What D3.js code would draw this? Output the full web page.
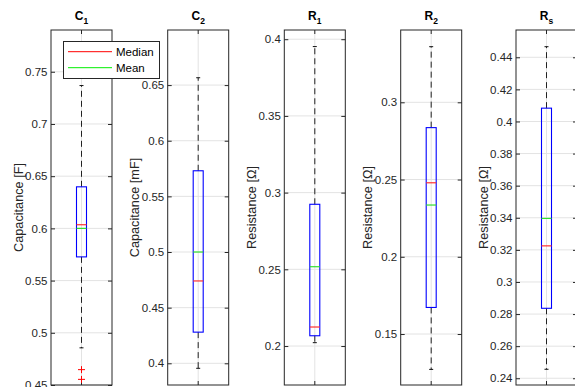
<!DOCTYPE html>
<html><head><meta charset="utf-8">
<script src="https://cdn.jsdelivr.net/npm/d3@7"></script>
<style>body{margin:0;background:#fff}svg{display:block}text{font-family:"Liberation Sans",Arial,sans-serif}</style>
</head><body><svg id="c" width="575" height="387"></svg>
<script>
// ---- data ----
const titleMain = ["C","C","R","R","R"];
const titleSub  = ["1","2","1","2","s"];
const yLabels   = ["Capacitance [F]","Capacitance [mF]","Resistance [\u03a9]","Resistance [\u03a9]","Resistance [\u03a9]"];
const whiskerLow  = [0.4856, 0.3955, 0.2022, 0.1271, 0.2456];
const q1          = [0.5727, 0.428, 0.2067, 0.1672, 0.2836];
const medians     = [0.6035, 0.474, 0.2124, 0.2479, 0.3225];
const means       = [0.600, 0.500, 0.2517, 0.2335, 0.3396];
const q3          = [0.6398, 0.573, 0.2924, 0.2836, 0.4083];
const whiskerHigh = [0.7368, 0.6566, 0.3952, 0.336, 0.4466];
const outliers    = [[0.4647, 0.4554], [], [], [], []];
const yDomains    = [[0.45, 0.79], [0.3805, 0.6995], [0.1746, 0.406], [0.117, 0.3468], [0.2358, 0.457]];
const tickVals = [
  [0.45,0.5,0.55,0.6,0.65,0.7,0.75],
  [0.4,0.45,0.5,0.55,0.6,0.65],
  [0.2,0.25,0.3,0.35,0.4],
  [0.15,0.2,0.25,0.3],
  [0.24,0.26,0.28,0.3,0.32,0.34,0.36,0.38,0.4,0.42,0.44]
];
const tickLabels = [
  ["0.45","0.5","0.55","0.6","0.65","0.7","0.75"],
  ["0.4","0.45","0.5","0.55","0.6","0.65"],
  ["0.2","0.25","0.3","0.35","0.4"],
  ["0.15","0.2","0.25","0.3"],
  ["0.24","0.26","0.28","0.3","0.32","0.34","0.36","0.38","0.4","0.42","0.44"]
];
const legendItems = ["Median","Mean"];

// ---- layout ----
const axLeft = [51, 167.7, 284.3, 400.7, 516];
const axW = 61;
const plotTop = 30, plotBottom = 385;
const svg = d3.select("#c");
const txt = "#262626";

for (let i = 0; i < 5; i++) {
  const g = svg.append("g").attr("transform", `translate(${axLeft[i]},0)`);
  const y = d3.scaleLinear().domain(yDomains[i]).range([plotBottom, plotTop]);
  const x = d3.scaleLinear().domain([0.5, 1.5]).range([0, axW]);
  // grid
  g.selectAll(".gy").data(tickVals[i]).enter().append("line")
    .attr("x1", 0).attr("x2", axW).attr("y1", d => y(d)).attr("y2", d => y(d))
    .attr("stroke", "#e3e3e3").attr("stroke-width", 1);
  g.append("line").attr("x1", x(1)).attr("x2", x(1)).attr("y1", plotTop).attr("y2", plotBottom)
    .attr("stroke", "#e3e3e3");
  // left axis
  const ax = d3.axisLeft(y).tickValues(tickVals[i]).tickFormat((d, k) => tickLabels[i][k]).tickSizeInner(-4).tickSizeOuter(0).tickPadding(3.5);
  const ag = g.append("g").call(ax);
  ag.attr("font-family", null).attr("font-size", null);
  ag.select(".domain").remove();
  ag.selectAll(".tick line").attr("stroke", txt);
  ag.selectAll(".tick text").attr("fill", txt).style("font-size", "11.5px");
  // right ticks
  const ar = d3.axisRight(y).tickValues(tickVals[i]).tickFormat("").tickSizeInner(-4).tickSizeOuter(0);
  const arg = g.append("g").attr("transform", `translate(${axW},0)`).call(ar);
  arg.select(".domain").remove();
  arg.selectAll(".tick line").attr("stroke", txt);
  // x ticks top/bottom
  g.append("line").attr("x1", x(1)).attr("x2", x(1)).attr("y1", plotBottom).attr("y2", plotBottom - 4).attr("stroke", txt);
  g.append("line").attr("x1", x(1)).attr("x2", x(1)).attr("y1", plotTop).attr("y2", plotTop + 4).attr("stroke", txt);
  // whiskers
  const cx = x(1);
  g.append("line").attr("x1", cx).attr("x2", cx).attr("y1", y(q3[i])).attr("y2", y(whiskerHigh[i]))
    .attr("stroke", "#222").attr("stroke-dasharray", "6,4");
  g.append("line").attr("x1", cx).attr("x2", cx).attr("y1", y(q1[i])).attr("y2", y(whiskerLow[i]))
    .attr("stroke", "#222").attr("stroke-dasharray", "6,4");
  [whiskerHigh[i], whiskerLow[i]].forEach(v => {
    g.append("line").attr("x1", cx - 2).attr("x2", cx + 2).attr("y1", y(v)).attr("y2", y(v)).attr("stroke", "#111");
  });
  // box
  const bw = 10;
  g.append("rect").attr("x", cx - bw / 2).attr("y", y(q3[i])).attr("width", bw).attr("height", y(q1[i]) - y(q3[i]))
    .attr("fill", "none").attr("stroke", "#0000ff").attr("stroke-width", 1.1);
  // median & mean
  g.append("line").attr("x1", cx - bw / 2).attr("x2", cx + bw / 2).attr("y1", y(medians[i])).attr("y2", y(medians[i]))
    .attr("stroke", "#ff3030").attr("stroke-width", 1.2);
  g.append("line").attr("x1", cx - bw / 2).attr("x2", cx + bw / 2).attr("y1", y(means[i])).attr("y2", y(means[i]))
    .attr("stroke", "#30e030").attr("stroke-width", 1.2);
  // outliers
  outliers[i].forEach(v => {
    g.append("path").attr("d", `M${cx - 3.5},${y(v)}H${cx + 3.5}M${cx},${y(v) - 3.5}V${y(v) + 3.5}`)
      .attr("stroke", "#ff0000").attr("stroke-width", 1);
  });
  // frame
  g.append("rect").attr("x", 0).attr("y", plotTop).attr("width", axW).attr("height", plotBottom - plotTop)
    .attr("fill", "none").attr("stroke", txt).attr("stroke-width", 1);
  // title
  const t = g.append("text").attr("x", axW / 2).attr("y", 20).attr("text-anchor", "middle")
    .attr("fill", "#000").style("font-weight", "bold").style("font-size", "12px");
  t.append("tspan").text(titleMain[i]);
  t.append("tspan").attr("dy", 4).style("font-size", "8.5px").text(titleSub[i]);
  // y label
  g.append("text").attr("transform", `translate(-28.5,${(plotTop + plotBottom) / 2}) rotate(-90)`)
    .attr("text-anchor", "middle").attr("fill", txt).style("font-size", "12.7px").text(yLabels[i]);
}

// legend
const lg = svg.append("g");
lg.append("rect").attr("x", 63.5).attr("y", 41.5).attr("width", 96).attr("height", 37)
  .attr("fill", "#fff").attr("stroke", txt).attr("stroke-width", 1);
const legColors = ["#ff0000", "#00ee00"];
legendItems.forEach((s, k) => {
  const yy = 51.7 + k * 16;
  lg.append("line").attr("x1", 68).attr("x2", 112).attr("y1", yy).attr("y2", yy).attr("stroke", legColors[k]);
  lg.append("text").attr("x", 116).attr("y", yy + 4).attr("fill", "#000").style("font-size", "11.5px").text(s);
});
</script></body></html>
